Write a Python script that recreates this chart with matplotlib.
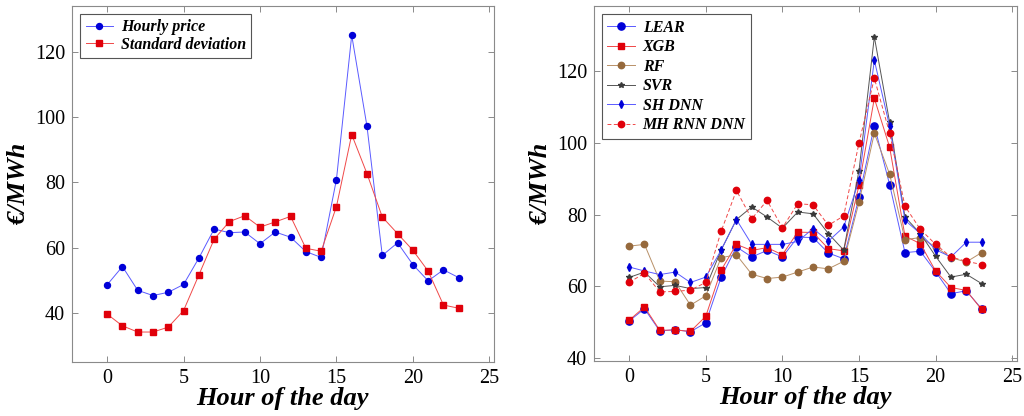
import matplotlib.pyplot as plt
import numpy as np

hours = list(range(24))

# left panel
hourly_price = [48.6, 54.2, 46.9, 45.3, 46.3, 48.7, 56.8, 65.7, 64.6, 64.8, 61.2, 64.8,
                63.2, 58.8, 57.0, 80.9, 125.2, 97.2, 57.6, 61.5, 54.8, 49.8, 53.2, 50.8]
std_dev = [39.6, 36.0, 34.1, 34.1, 35.6, 40.7, 51.6, 62.6, 68.0, 69.8, 66.3, 67.9,
           69.6, 59.8, 58.9, 72.6, 94.7, 82.7, 69.4, 64.3, 59.2, 52.8, 42.4, 41.4]

# right panel
lear = [50.4, 53.8, 47.6, 48.0, 47.4, 49.9, 62.5, 71.0, 68.2, 70.0, 68.2, 73.7,
        73.6, 69.3, 67.7, 84.8, 104.7, 88.3, 69.4, 69.8, 64.1, 58.0, 58.8, 53.8]
xgb = [50.6, 54.3, 47.8, 47.9, 47.5, 51.7, 64.5, 71.7, 70.0, 70.8, 68.8, 75.1,
       75.0, 70.5, 69.9, 88.1, 112.3, 98.7, 74.0, 71.9, 64.3, 59.7, 58.9, 53.6]
rf = [71.2, 71.7, 61.5, 61.3, 54.8, 57.4, 68.0, 68.8, 63.4, 62.2, 62.6, 64.0,
      65.4, 64.9, 67.0, 83.4, 102.6, 91.2, 73.0, 73.6, 71.0, 68.0, 66.8, 69.4]
svr = [62.5, 64.0, 59.9, 60.3, 59.4, 59.7, 70.1, 78.6, 82.1, 79.3, 76.2, 80.7,
       80.2, 74.7, 70.1, 92.2, 129.4, 105.6, 79.3, 74.7, 68.4, 62.6, 63.4, 60.8]
sh_dnn = [65.4, 64.3, 63.3, 64.0, 61.1, 62.6, 70.1, 78.6, 71.7, 71.7, 71.7, 72.5,
          76.1, 72.6, 76.5, 89.5, 122.9, 104.5, 78.4, 74.7, 70.2, 68.2, 72.3, 72.3]
mh_rnn_dnn = [61.1, 63.7, 58.5, 58.6, 59.0, 61.1, 75.3, 86.7, 78.8, 83.9, 76.3, 83.0,
              82.7, 77.0, 79.6, 99.9, 117.9, 102.6, 82.3, 75.9, 71.7, 68.2, 67.0, 66.1]

serif = ['Liberation Serif', 'DejaVu Serif']
label_font = dict(family=serif, weight='bold', style='italic', size=19)
legend_font = dict(family=serif, weight='bold', style='italic', size=11.5)

blue = '#0000d8'
blue_line = '#5a5aff'
red = '#e0000a'
red_line = '#f04848'
brown = '#96693c'
brown_line = '#b89068'
grey = '#3a3a3a'
grey_line = '#555555'
frame = '#8a8a8a'


def series(ax, y, line, mark, **kw):
    ax.plot(hours, y, color=line, mfc=mark, mec=mark, lw=0.7, **kw)


fig = plt.figure(figsize=(10.24, 4.16), dpi=100)
ax1 = fig.add_axes([0.0703, 0.1298, 0.412, 0.856])
ax2 = fig.add_axes([0.580, 0.132, 0.413, 0.853])

series(ax1, hourly_price, blue_line, blue, marker='o', ms=4.3, label='Hourly price')
series(ax1, std_dev, red_line, red, marker='s', ms=4.2, label='Standard deviation')
ax1.set_ylim(24.9, 134.2)

series(ax2, lear, blue_line, blue, marker='o', ms=5.2, label='LEAR')
series(ax2, xgb, red_line, red, marker='s', ms=5.0, label='XGB')
series(ax2, rf, brown_line, brown, marker='o', ms=4.6, label='RF')
series(ax2, svr, grey_line, grey, marker='*', ms=4.0, label='SVR')
series(ax2, sh_dnn, blue_line, blue, marker='d', ms=3.6, label='SH DNN')
series(ax2, mh_rnn_dnn, red_line, red, ls=(0, (4, 2.5)), marker='o', ms=4.6,
       label='MH RNN DNN')
ax2.set_ylim(39.25, 137.9)

for ax, spacing in ((ax1, 0.08), (ax2, 0.22)):
    ax.set_xlim(-2.3, 25.3)
    ax.set_xticks([0, 5, 10, 15, 20, 25])
    ax.set_yticks([40, 60, 80, 100, 120])
    ax.tick_params(direction='in', top=True, right=True, length=4, width=0.7,
                   color=frame, labelsize=14.5, pad=5)
    for lab in ax.get_xticklabels() + ax.get_yticklabels():
        lab.set_family(serif)
    for sp in ax.spines.values():
        sp.set_color(frame)
        sp.set_linewidth(0.8)
    ax.set_xlabel('Hour of the day', fontdict=label_font, labelpad=-1)
    ax.set_ylabel('€/MWh', fontdict=label_font, labelpad=3)
    leg = ax.legend(loc='upper left', prop=legend_font, fancybox=False,
                    framealpha=1, edgecolor='#555555', handlelength=1.7,
                    borderpad=0.35, labelspacing=spacing, handletextpad=0.5,
                    borderaxespad=0.5)
    leg.get_frame().set_linewidth(0.8)

fig.savefig('out.png', dpi=100)
